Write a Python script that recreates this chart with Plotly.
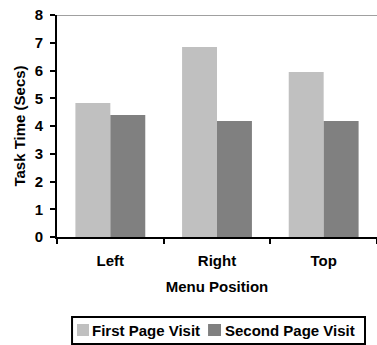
import plotly.graph_objects as go

categories = ["Left", "Right", "Top"]
first_visit = [4.83, 6.85, 5.95]
second_visit = [4.40, 4.18, 4.18]
y_ticks = [0, 1, 2, 3, 4, 5, 6, 7, 8]
series_names = ["First Page Visit", "Second Page Visit"]
series_colors = ["#c0c0c0", "#808080"]

FAM = "Arial, Liberation Sans, sans-serif"
F = dict(family=FAM, size=15, color="black")

fig = go.Figure()
for vals, name, col in zip([first_visit, second_visit], series_names, series_colors):
    fig.add_trace(go.Bar(x=categories, y=vals, name=name,
                         marker=dict(color=col, line=dict(width=0))))

fig.update_layout(
    width=377, height=345,
    margin=dict(l=57, r=0, t=15, b=108, autoexpand=False),
    paper_bgcolor="white", plot_bgcolor="white",
    font=F,
    barmode="group", bargap=0.345, bargroupgap=0,
    showlegend=False,
    xaxis=dict(
        range=[-0.5, 2.5], tickson="boundaries", ticks="outside", ticklen=5,
        tickwidth=2, tickcolor="black", showline=True, linecolor="black", linewidth=2,
        tickvals=[0, 1, 2], ticktext=["<b>" + c + "</b>" for c in categories],
        tickfont=F, ticklabelstandoff=9,
        title=dict(text="<b>Menu Position</b>", standoff=13, font=F),
        showgrid=False, zeroline=False, automargin=False,
    ),
    yaxis=dict(
        range=[0, 8], tickvals=y_ticks, ticktext=["<b>%d</b>" % v for v in y_ticks],
        tickfont=F, ticklabelstandoff=4, ticklabeloverflow="allow",
        ticks="outside", ticklen=5, tickwidth=1.5, tickcolor="black",
        showline=True, linecolor="black", linewidth=2,
        title=dict(text="<b>Task Time (Secs)</b>", standoff=5, font=F),
        showgrid=False, zeroline=False, automargin=False,
    ),
)
fig.add_shape(type="line", xref="paper", yref="y", x0=0, x1=1, y0=8, y1=8,
              line=dict(color="#a0a0a0", width=2), layer="below")

# legend box drawn manually to match the compact original legend
fig.add_shape(type="rect", xref="paper", yref="paper", x0=0.047, x1=0.9625,
              y0=-0.482, y1=-0.360, line=dict(color="black", width=2),
              fillcolor="white")
sq_x = [(0.0625, 0.1), (0.472, 0.5125)]
txt_x = [0.109, 0.525]
for (x0, x1), tx, name, col in zip(sq_x, txt_x, series_names, series_colors):
    fig.add_shape(type="rect", xref="paper", yref="paper", x0=x0, x1=x1,
                  y0=-0.446, y1=-0.392, line=dict(width=0), fillcolor=col)
    fig.add_annotation(xref="paper", yref="paper", x=tx, y=-0.419,
                       xanchor="left", yanchor="middle", showarrow=False,
                       text="<b>" + name + "</b>", font=F, xshift=-2)

fig.write_html("out.html", config={"displayModeBar": False},
               post_script="document.body.style.margin='0';")
